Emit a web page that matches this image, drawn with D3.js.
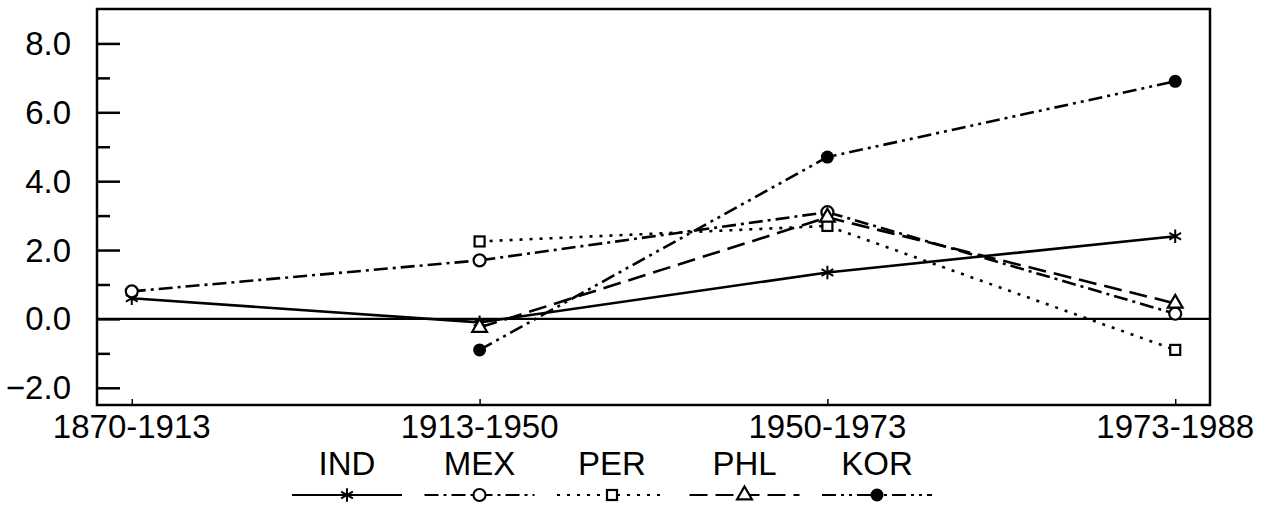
<!DOCTYPE html>
<html>
<head>
<meta charset="utf-8">
<script src="https://cdn.jsdelivr.net/npm/d3@7"></script>
<style>
  body { margin: 0; background: #fff; }
  svg text { font-family: "Liberation Sans", Arial, sans-serif; fill: #000; }
</style>
</head>
<body>
<svg id="chart" width="1266" height="505"></svg>
<script>
var periods = ["1870-1913", "1913-1950", "1950-1973", "1973-1988"];
var countries = ["IND", "MEX", "PER", "PHL", "KOR"];

var indVals = [0.6, -0.1, 1.35, 2.4];
var mexVals = [0.8, 1.7, 3.1, 0.15];
var perVals = [null, 2.25, 2.7, -0.9];
var phlVals = [null, -0.25, 2.95, 0.45];
var korVals = [null, -0.9, 4.7, 6.9];

var yMajorTicks = [-2, 0, 2, 4, 6, 8];
var yMinorTicks = [-1, 1, 3, 5, 7];

var seriesVals = [indVals, mexVals, perVals, phlVals, korVals];
var dashes = ["none", "14,5,3,5", "3,7", "18,8", "14,5,3,5,3,5"];
var markers = ["asterisk", "circle", "square", "triangle", "dot"];

var LEFT = 97, RIGHT = 1210, TOP = 9, BOTTOM = 405;
var FONT_SZE = "33px";
var LNE_WID = 2.6;

var svg = d3.select("#chart");

var x = d3.scalePoint()
    .domain(periods)
    .range([LEFT, RIGHT])
    .padding(0.1);

var y = d3.scaleLinear()
    .domain([-2.5, 9])
    .range([BOTTOM, TOP]);

// frame
svg.append("rect")
    .attr("x", LEFT).attr("y", TOP)
    .attr("width", RIGHT - LEFT).attr("height", BOTTOM - TOP)
    .style("fill", "none").style("stroke", "#000").style("stroke-width", 2.5);

// y axis ticks (inside, pointing right)
var yAxis = d3.axisRight(y)
    .tickValues(yMajorTicks)
    .tickSize(23)
    .tickFormat("");
svg.append("g")
    .attr("transform", "translate(" + LEFT + ",0)")
    .call(yAxis)
    .call(g => g.select(".domain").remove())
    .selectAll("line").style("stroke-width", 2.5);

var yMinor = d3.axisRight(y)
    .tickValues(yMinorTicks)
    .tickSize(13)
    .tickFormat("");
svg.append("g")
    .attr("transform", "translate(" + LEFT + ",0)")
    .call(yMinor)
    .call(g => g.select(".domain").remove())
    .selectAll("line").style("stroke-width", 2.5);

svg.selectAll(".ylab")
    .data(yMajorTicks)
    .enter()
    .append("text")
    .attr("class", "ylab")
    .attr("x", 71)
    .attr("y", d => y(d))
    .attr("dy", "0.35em")
    .attr("text-anchor", "end")
    .style("font-size", FONT_SZE)
    .text(d => d3.format(".1f")(d));

// x axis ticks (pointing up) and labels
var xAxis = d3.axisTop(x).tickSize(6).tickFormat("");
svg.append("g")
    .attr("transform", "translate(0," + BOTTOM + ")")
    .call(xAxis)
    .call(g => g.select(".domain").remove())
    .selectAll("line").style("stroke-width", 1.5);

svg.selectAll(".xlab")
    .data(periods)
    .enter()
    .append("text")
    .attr("class", "xlab")
    .attr("x", d => x(d))
    .attr("y", 438)
    .attr("text-anchor", "middle")
    .style("font-size", FONT_SZE)
    .text(d => d);

// zero line
svg.append("line")
    .attr("x1", LEFT).attr("x2", RIGHT)
    .attr("y1", y(0)).attr("y2", y(0))
    .style("stroke", "#000").style("stroke-width", 2.2);

function draw_marker(g, type, cx, cy) {
    if (type == "asterisk") {
        g.append("path")
            .attr("d", d3.symbol().type(d3.symbolAsterisk).size(130)())
            .attr("transform", "translate(" + cx + "," + cy + ")")
            .style("fill", "none").style("stroke", "#000").style("stroke-width", 2);
    }
    else if (type == "circle") {
        g.append("circle").attr("cx", cx).attr("cy", cy).attr("r", 6)
            .style("fill", "#fff").style("stroke", "#000").style("stroke-width", 2.2);
    }
    else if (type == "square") {
        g.append("rect").attr("x", cx - 5).attr("y", cy - 5).attr("width", 10).attr("height", 10)
            .style("fill", "#fff").style("stroke", "#000").style("stroke-width", 2.2);
    }
    else if (type == "triangle") {
        g.append("path")
            .attr("d", d3.symbol().type(d3.symbolTriangle).size(95)())
            .attr("transform", "translate(" + cx + "," + cy + ")")
            .style("fill", "#fff").style("stroke", "#000").style("stroke-width", 2.2);
    }
    else {
        g.append("circle").attr("cx", cx).attr("cy", cy).attr("r", 6.5)
            .style("fill", "#000");
    }
}

var line = d3.line()
    .defined(d => d.v != null)
    .x(d => x(d.p))
    .y(d => y(d.v));

seriesVals.forEach(function(vals, i) {
    var pts = periods.map((p, j) => ({p: p, v: vals[j]}));
    svg.append("path")
        .datum(pts)
        .attr("d", line)
        .style("fill", "none")
        .style("stroke", "#000")
        .style("stroke-width", LNE_WID)
        .style("stroke-dasharray", dashes[i]);
});

seriesVals.forEach(function(vals, i) {
    var g = svg.append("g");
    vals.forEach(function(v, j) {
        if (v != null) draw_marker(g, markers[i], x(periods[j]), y(v));
    });
});

// legend
var legX = d3.scalePoint()
    .domain(countries)
    .range([347, 877]);

countries.forEach(function(c, i) {
    var cx = legX(c);
    svg.append("text")
        .attr("x", cx)
        .attr("y", 475)
        .attr("text-anchor", "middle")
        .style("font-size", FONT_SZE)
        .text(c);
    svg.append("line")
        .attr("x1", cx - 55).attr("x2", cx + 55)
        .attr("y1", 495).attr("y2", 495)
        .style("stroke", "#000")
        .style("stroke-width", 2.2)
        .style("stroke-dasharray", dashes[i]);
    draw_marker(svg.append("g"), markers[i], cx, 495);
});
</script>
</body>
</html>
